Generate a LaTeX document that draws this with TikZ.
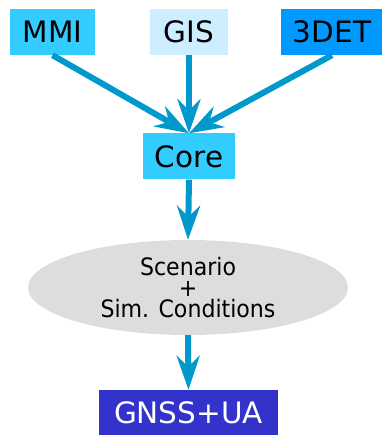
\documentclass[tikz,border=0pt]{standalone}
\usepackage{fontspec}
\setmainfont{DejaVu Sans}
\newfontfamily\condfont[FakeStretch=0.92]{DejaVu Sans}
\usetikzlibrary{shapes.geometric, arrows.meta}

\definecolor{mmiblue}{HTML}{33CCFF}
\definecolor{gisblue}{HTML}{CCEEFF}
\definecolor{detblue}{HTML}{0099FF}
\definecolor{arrowblue}{HTML}{0099CC}
\definecolor{scengray}{HTML}{DDDDDD}
\definecolor{gnssblue}{HTML}{3333CC}

\tikzset{
    block/.style={rectangle, inner xsep=10pt, inner ysep=0pt, minimum height=46pt, font=\fontsize{29.5}{29.5}\selectfont},
    flow/.style={-{Stealth[length=34pt, width=23pt, inset=11pt]}, line width=6pt, arrowblue}
}

\begin{document}
\begin{tikzpicture}[x=1pt, y=1pt]
            \useasboundingbox (0,0) rectangle (381,-435);
            \node[block, fill=mmiblue, minimum width=85pt] at (52.5,-32) (mmi) {MMI};
            \node[block, fill=gisblue, minimum width=78pt] at (189,-32) (gis) {GIS};
            \node[block, fill=detblue, minimum width=102pt] at (332,-32) (det) {3DET};
            \node[block, fill=mmiblue, minimum width=92pt] at (189,-156.5) (core) {Core};
            \node[ellipse, fill=scengray, inner sep=0pt, minimum width=320pt, minimum height=95pt, align=center,
                  font=\condfont\fontsize{24}{21}\selectfont] at (188,-287.5) (scen) {Scenario\\+\\Sim. Conditions};
            \node[block, fill=gnssblue, text=white, minimum width=179pt] at (188.5,-413) (gnss) {GNSS+UA};
            \draw[flow] (mmi.south) -- (core.north);
            \draw[flow] (gis.south) -- (core.north);
            \draw[flow] (det.south) -- (core.north);
            \draw[flow] (core.south) -- (scen.north);
            \draw[flow] (scen.south) -- (gnss.north);
        \end{tikzpicture}
\end{document}
